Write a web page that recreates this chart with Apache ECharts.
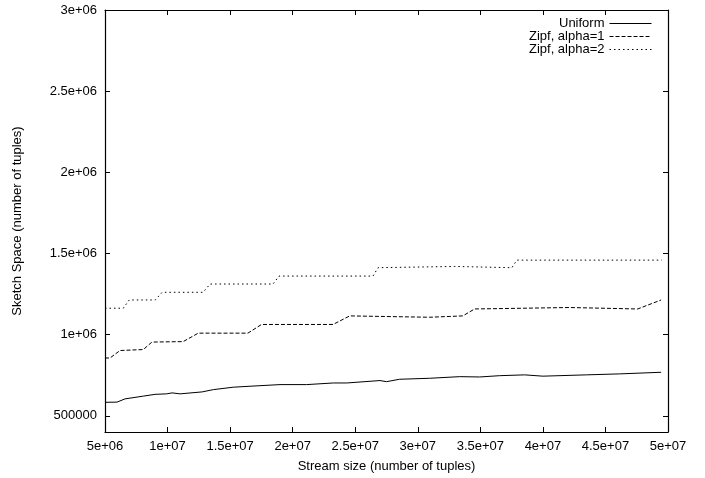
<!DOCTYPE html>
<html>
<head>
<meta charset="utf-8">
<script src="https://cdn.jsdelivr.net/npm/echarts@6/dist/echarts.min.js"></script>
<style>
  html, body { margin: 0; padding: 0; background: #fff; }
  #chart { width: 705px; height: 478px; }
</style>
</head>
<body>
<div id="chart"></div>
<script>
// Sketch space versus stream size for three input distributions.
const seriesNames = ['Uniform', 'Zipf, alpha=1', 'Zipf, alpha=2'];

const uniformX = [5.0e6, 5.96e6, 6.6e6, 8.06e6, 9.0e6, 9.93e6, 10.36e6, 11.0e6, 12.76e6, 13.66e6,
  15.26e6, 16.59e6, 18.99e6, 21.12e6, 23.25e6, 24.32e6, 26.98e6, 27.5e6, 28.55e6, 30.95e6,
  33.35e6, 34.94e6, 36.54e6, 38.54e6, 40.0e6, 43.46e6, 46.12e6, 49.45e6];
const uniformY = [583000, 584000, 604000, 621000, 632000, 635000, 641000, 635000, 647000, 661000,
  676000, 682000, 692000, 692000, 702000, 702000, 717000, 710000, 725000, 731000,
  741000, 739000, 747000, 752000, 744000, 752000, 758000, 768000];

const zipf1X = [5.0e6, 5.4e6, 6.2e6, 8.06e6, 8.75e6, 11.25e6, 12.45e6, 16.42e6, 17.51e6, 23.23e6,
  24.56e6, 30.95e6, 33.6e6, 34.54e6, 42.12e6, 47.58e6, 49.45e6];
const zipf1Y = [856000, 856000, 902000, 908000, 954000, 957000, 1009000, 1009000, 1062600, 1062600,
  1115300, 1107000, 1115300, 1158000, 1167000, 1158000, 1213500];

const zipf2X = [5.0e6, 6.46e6, 6.94e6, 9.02e6, 9.57e6, 12.84e6, 13.40e6, 18.43e6, 18.91e6, 26.42e6,
  26.82e6, 32.96e6, 37.52e6, 37.92e6, 49.5e6];
const zipf2Y = [1162600, 1162600, 1213500, 1213500, 1260700, 1260700, 1311700, 1311700, 1360700, 1360700,
  1412300, 1420000, 1412300, 1458900, 1458900];

const xTickValues = [5e6, 1e7, 1.5e7, 2e7, 2.5e7, 3e7, 3.5e7, 4e7, 4.5e7, 5e7];
const xTickLabels = ['5e+06', '1e+07', '1.5e+07', '2e+07', '2.5e+07', '3e+07', '3.5e+07', '4e+07', '4.5e+07', '5e+07'];
const yTickValues = [500000, 1000000, 1500000, 2000000, 2500000, 3000000];
const yTickLabels = ['500000', '1e+06', '1.5e+06', '2e+06', '2.5e+06', '3e+06'];

const FONT = 'Liberation Sans, Arial, Helvetica, sans-serif';
const zip = (xs, ys) => xs.map((x, i) => [x, ys[i]]);
const labelFor = (values, labels) => v => {
  const i = values.findIndex(t => Math.abs(t - v) < 1);
  return i >= 0 ? labels[i] : '';
};

const dashTypes = ['solid', [4, 2], [1.5, 3]];
const frameLine = { show: true, onZero: false, lineStyle: { color: '#000', width: 1.2 } };
const tickStyle = { color: '#000', width: 1 };
const labelStyle = { color: '#000', fontSize: 13, fontFamily: FONT };

const chart = echarts.init(document.getElementById('chart'), null, { renderer: 'canvas' });
chart.setOption({
  animation: false,
  backgroundColor: '#fff',
  grid: { left: 105, right: 37, top: 10, bottom: 45, containLabel: false },
  // one legend per entry so the key samples line up on the right edge
  legend: seriesNames.map((n, i) => ({
    data: [n],
    orient: 'vertical',
    right: 53,
    top: 17 + 13 * i,
    align: 'right',
    itemWidth: 42,
    itemHeight: 12,
    padding: 0,
    selectedMode: false,
    itemStyle: { opacity: 0 },
    lineStyle: { width: 1, color: '#000', type: dashTypes[i] },
    textStyle: { color: '#000', fontSize: 13, fontFamily: FONT }
  })),
  xAxis: [
    {
      type: 'value', position: 'bottom', min: 5e6, max: 5e7,
      axisLine: frameLine,
      axisTick: { show: true, inside: true, length: 5, customValues: xTickValues, lineStyle: tickStyle },
      axisLabel: Object.assign({ margin: 8, customValues: xTickValues,
        formatter: labelFor(xTickValues, xTickLabels) }, labelStyle),
      splitLine: { show: false },
      name: 'Stream size (number of tuples)',
      nameLocation: 'middle', nameGap: 28,
      nameTextStyle: labelStyle
    },
    {
      type: 'value', position: 'top', min: 5e6, max: 5e7,
      axisLine: frameLine,
      axisTick: { show: true, inside: true, length: 5, customValues: xTickValues, lineStyle: tickStyle },
      axisLabel: { show: false },
      splitLine: { show: false }
    }
  ],
  yAxis: [
    {
      type: 'value', position: 'left', min: 400000, max: 3000000,
      axisLine: frameLine,
      axisTick: { show: true, inside: true, length: 5, customValues: yTickValues, lineStyle: tickStyle },
      axisLabel: Object.assign({ margin: 8, customValues: yTickValues,
        formatter: labelFor(yTickValues, yTickLabels) }, labelStyle),
      splitLine: { show: false },
      name: 'Sketch Space (number of tuples)',
      nameLocation: 'middle', nameGap: 81, nameRotate: 90,
      nameTextStyle: labelStyle
    },
    {
      type: 'value', position: 'right', min: 400000, max: 3000000,
      axisLine: frameLine,
      axisTick: { show: true, inside: true, length: 5, customValues: yTickValues, lineStyle: tickStyle },
      axisLabel: { show: false },
      splitLine: { show: false }
    }
  ],
  series: [
    {
      name: seriesNames[0], type: 'line', symbol: 'none', xAxisIndex: 0, yAxisIndex: 0,
      data: zip(uniformX, uniformY),
      lineStyle: { color: '#000', width: 1, type: dashTypes[0] },
      itemStyle: { color: '#000' }
    },
    {
      name: seriesNames[1], type: 'line', symbol: 'none', xAxisIndex: 0, yAxisIndex: 0,
      data: zip(zipf1X, zipf1Y),
      lineStyle: { color: '#000', width: 1, type: dashTypes[1] },
      itemStyle: { color: '#000' }
    },
    {
      name: seriesNames[2], type: 'line', symbol: 'none', xAxisIndex: 0, yAxisIndex: 0,
      data: zip(zipf2X, zipf2Y),
      lineStyle: { color: '#000', width: 1, type: dashTypes[2] },
      itemStyle: { color: '#000' }
    }
  ]
});
</script>
</body>
</html>
